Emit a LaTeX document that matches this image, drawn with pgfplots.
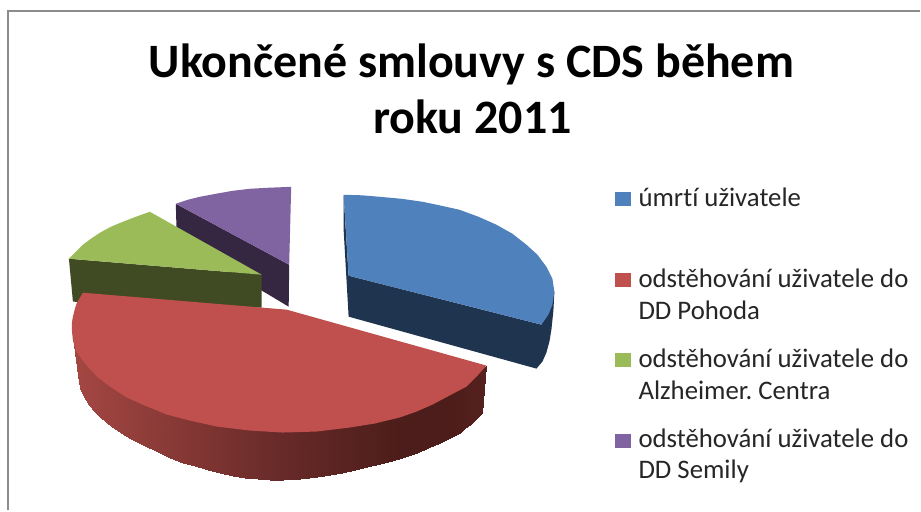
\documentclass[border=0pt]{standalone}
\usepackage{fontspec}
\setmainfont[Ligatures=NoCommon]{Carlito}
\usepackage{pgfplots}
\pgfplotsset{compat=1.18}
\definecolor{cBlue}{HTML}{4F81BD}
\definecolor{cRed}{HTML}{C0504D}
\definecolor{cGreen}{HTML}{9BBB59}
\definecolor{cPurple}{HTML}{8064A2}
\definecolor{dBlue}{HTML}{1F344F}
\definecolor{dGreen}{HTML}{404A23}
\definecolor{dPurple}{HTML}{352642}
\definecolor{frameGray}{HTML}{8C8C8C}
\begin{document}
\begin{tikzpicture}
\begin{axis}[
  hide axis, scale only axis, width=921pt, height=511pt,
  xmin=0, xmax=921, ymin=0, ymax=511, y dir=reverse, clip=false,
  colormap={redside}{rgb255(72)=(165,71,67) rgb255(283)=(103,42,40) rgb255(400)=(76,29,26) rgb255(450)=(76,29,26) rgb255(487)=(86,33,31)},
  point meta min=72, point meta max=487]
\addplot[fill=white, draw=none] coordinates {(0,0)(921,0)(921,511)(0,511)} -- cycle;
\addplot[frameGray, line width=2pt] coordinates {(8.5,511)(8.5,11)(921,11)};
% purple slice
\addplot[fill=dPurple, draw=none] coordinates {(176,204)(289.5,265)(289,307)(177,240)} -- cycle;
\addplot[fill=cPurple, draw=none] coordinates {(176,204)(188,200)(200,197)(216,194)(233,191)(250,189)(267,188)(280,187.5)(291.5,187)(289.5,265)} -- cycle;
% green slice
\addplot[fill=dGreen, draw=none] coordinates {(69,259)(262,275)(262,308)(73,302)} -- cycle;
\addplot[fill=cGreen, draw=none] coordinates {(69,259)(76,252)(83,245)(91,239)(100,233)(111,227)(123,222)(136,217)(150,212)(262,275)} -- cycle;
% blue slice
\addplot[fill=dBlue, draw=none] coordinates {(344,195)(344,230)(349,317)(537,369)(543,362)(547,353)(550,342)(552,330)(554,311)(555,292)(542,325)(349,276)} -- cycle;
\addplot[fill=cBlue, draw=none] coordinates {(344,195)(362,195.5)(380,197)(402,199)(423,202)(442,206)(460,210)(479,217)(497,225)(513,234)(527,245)(538,255)(547,267)(553,279)(555,292)(553,305)(549,315)(542,325)(349,276)} -- cycle;
% red slice: side wall as a two-row mesh, coloured along x
\addplot[surf, shader=interp, mesh/rows=2, mesh/ordering=x varies, point meta=x] coordinates {
(72,328)(74,335)(76,345)(78,350)(80,355)(84,360)(89,365)(94,370)(100,375)(107,380)(115,380)(124,380)(133,380)(145,380)(158,380)(170,380)(183,380)(195,380)(208,380)(220,380)(233,380)(245,380)(258,380)(270,380)(283,380)(300,380)(317,380)(330,380)(342,380)(355,380)(367,380)(380,380)(392,380)(405,380)(417,380)(428,380)(440,380)(450,380)(460,380)(466,380)(472,378)(478,372)(484,367)(487,366)

(72,330)(74,345)(76,360)(78,375)(80,388)(84,397)(89,405)(94,411)(100,417)(107,423)(115,429)(124,435)(133,440)(145,446)(158,452)(170,458)(183,463)(195,467)(208,471)(220,474)(233,477)(245,479)(258,480)(270,481)(283,481)(300,480)(317,478)(330,476)(342,474)(355,471)(367,468)(380,464.5)(392,461)(405,457)(417,453)(428,448.5)(440,443)(450,438)(460,433)(466,428.5)(472,424)(478,418)(483,413)(483,413)
};
% red slice: top
\addplot[fill=cRed, draw=none] coordinates {(83,293)(287,310)(487,366)(478,376)(467,387)(450,396)(433,405)(417,412)(400,418)(375,424)(350,428)(317,432)(283,433)(250,431)(217,427)(190,421)(167,415)(145,406)(127,398)(110,387)(97,377)(86,365)(77,353)(73,341)(72,330)(72,323)(73,317)(75,309)(77,303)} -- cycle;
% legend keys
\addplot[fill=cBlue, draw=none] coordinates {(616,192)(632,192)(632,206)(616,206)} -- cycle;
\addplot[fill=cRed, draw=none] coordinates {(616,273)(632,273)(632,287)(616,287)} -- cycle;
\addplot[fill=cGreen, draw=none] coordinates {(616,353)(632,353)(632,367)(616,367)} -- cycle;
\addplot[fill=cPurple, draw=none] coordinates {(616,434)(632,434)(632,448)(616,448)} -- cycle;
% texts
\node[anchor=base, inner sep=0pt, font=\fontsize{48}{48}\selectfont\bfseries] at (axis cs:472,78) {Ukončené smlouvy s CDS během};
\node[anchor=base, inner sep=0pt, font=\fontsize{48}{48}\selectfont\bfseries] at (axis cs:473,134) {roku 2011};
\frenchspacing
\foreach \yy/\tt in {207/úmrtí uživatele, 288/odstěhování uživatele do, 320/DD Pohoda, 368/odstěhování uživatele do, 400/Alzheimer. Centra, 448/odstěhování uživatele do, 479/DD Semily}{
  \edef\temp{\noexpand\node[anchor=base west, inner sep=0pt, font=\noexpand\fontsize{26.8}{26.8}\noexpand\selectfont, text=black!85] at (axis cs:639,\yy) {\tt};}
  \temp
}
\end{axis}
\end{tikzpicture}
\end{document}
